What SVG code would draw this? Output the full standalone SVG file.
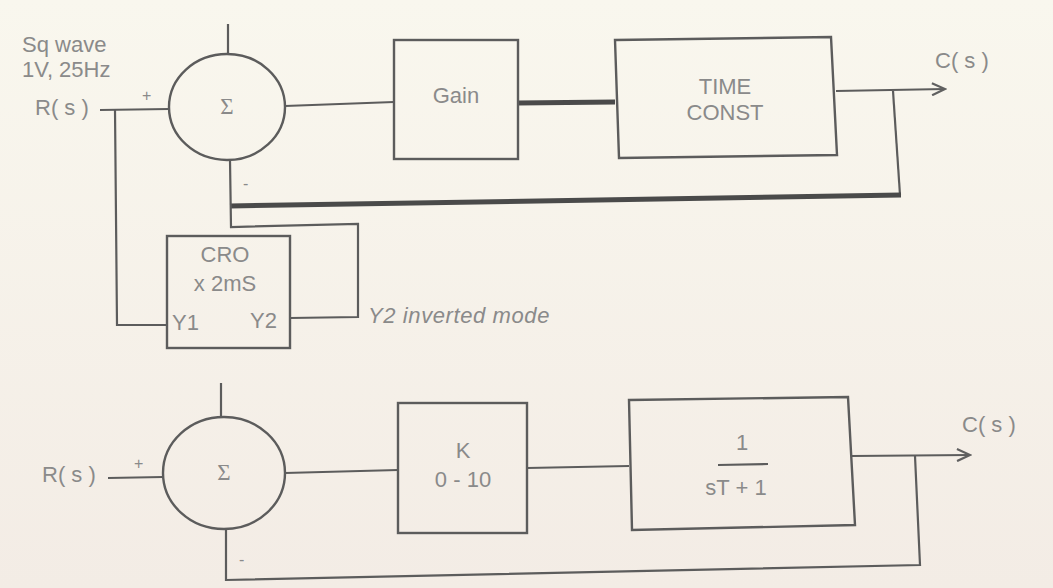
<svg xmlns="http://www.w3.org/2000/svg" width="1053" height="588" viewBox="0 0 1053 588">
<defs>
<linearGradient id="bg" x1="0" y1="0" x2="0" y2="1">
<stop offset="0" stop-color="#f9f7ee"/>
<stop offset="1" stop-color="#f3ece5"/>
</linearGradient>
<marker id="arr" markerWidth="16" markerHeight="14" refX="14" refY="7" orient="auto" markerUnits="userSpaceOnUse">
<path d="M1,1 L14,7 L1,13" fill="none" stroke="#606060" stroke-width="2.2"/>
</marker>
<style>
.ln{fill:none;stroke:#5c5c5c;stroke-width:2.2;stroke-linejoin:miter}
.thick{fill:none;stroke:#4a4a4a;stroke-width:5}
.box{fill:none;stroke:#5c5c5c;stroke-width:2.4}
.t{font-family:"Liberation Sans",Arial,sans-serif;fill:#8a8a8a;font-size:22px}
.c{text-anchor:middle}
.sig{font-family:"Liberation Serif","Times New Roman",serif;fill:#8a8a8a;font-size:23px;text-anchor:middle}
.sm{font-family:"Liberation Sans",Arial,sans-serif;fill:#8a8a8a;font-size:16px}
</style>
</defs>
<rect x="0" y="0" width="1053" height="588" fill="url(#bg)"/>

<g id="connectors">
<polyline class="ln" points="100,110 169,109"/>
<polyline class="ln" points="115,110 117,325 167,325"/>
<polyline class="ln" points="228,24 228,54"/>
<polyline class="ln" points="285,106 394,102"/>
<polyline class="thick" points="518,103 615,102"/>
<polyline class="ln" points="836,91 945,89" marker-end="url(#arr)"/>
<polyline class="ln" points="893,91 900,195"/>
<polyline class="thick" points="901,195 230,206"/>
<polyline class="ln" points="230,160 231,227 358,224 358,317 290,318"/>
<polyline class="ln" points="108,478 163,477"/>
<polyline class="ln" points="221,383 221,417"/>
<polyline class="ln" points="285,473 398,470"/>
<polyline class="ln" points="527,468 629,466"/>
<polyline class="ln" points="852,456 970,455" marker-end="url(#arr)"/>
<polyline class="ln" points="915,456 920,565 226,580 226,530"/>
</g>

<g id="labels">
<text class="t" x="22" y="52">Sq wave</text>
<text class="t" x="22" y="77">1V, 25Hz</text>
<text class="t" x="35" y="115">R( s )</text>
<text class="sm" x="142" y="101">+</text>
<text class="sm" x="243" y="189">-</text>
<text class="t" x="935" y="68">C( s )</text>
<text class="t" x="42" y="482">R( s )</text>
<text class="sm" x="134" y="469">+</text>
<text class="sm" x="239" y="565">-</text>
<text class="t" x="962" y="432">C( s )</text>
<text class="t" x="368" y="323" font-style="italic" font-size="23" letter-spacing="0.6">Y2 inverted mode</text>
</g>

<g id="sum1">
<ellipse class="box" cx="227" cy="107" rx="58" ry="53"/>
<text class="sig" x="227" y="114">Σ</text>
</g>

<g id="gain">
<rect class="box" x="394" y="40" width="124" height="119"/>
<text class="t c" x="456" y="103">Gain</text>
</g>

<g id="timeconst">
<polygon class="box" points="615,40 831,37 837,155 619,158"/>
<text class="t c" x="725" y="94">TIME</text>
<text class="t c" x="725" y="120">CONST</text>
</g>

<g id="cro">
<rect class="box" x="167" y="236" width="123" height="112"/>
<text class="t c" x="225" y="262">CRO</text>
<text class="t c" x="225" y="291">x 2mS</text>
<text class="t" x="172" y="330">Y1</text>
<text class="t" x="250" y="328">Y2</text>
</g>

<g id="sum2">
<ellipse class="box" cx="224" cy="473" rx="61" ry="56"/>
<text class="sig" x="224" y="480">Σ</text>
</g>

<g id="k">
<rect class="box" x="398" y="403" width="129" height="130"/>
<text class="t c" x="463" y="458">K</text>
<text class="t c" x="463" y="487">0 - 10</text>
</g>

<g id="tf">
<polygon class="box" points="629,400 848,397 855,525 632,530"/>
<text class="t c" x="742" y="450">1</text>
<line class="ln" x1="718" y1="465" x2="768" y2="464"/>
<text class="t c" x="736" y="495">sT + 1</text>
</g>
</svg>
